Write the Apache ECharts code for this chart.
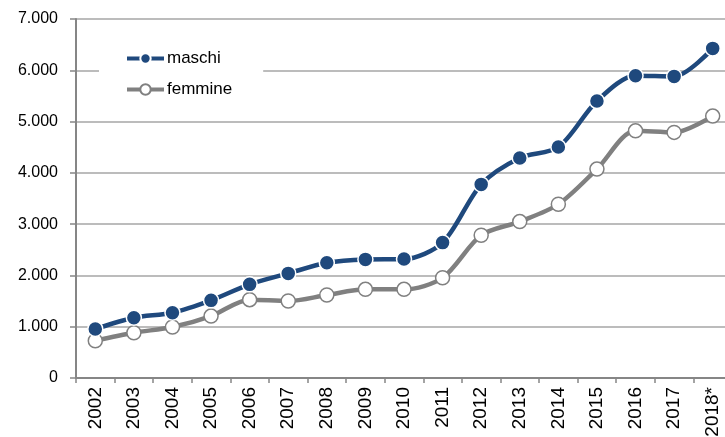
<!DOCTYPE html>
<html>
<head>
<meta charset="utf-8">
<script src="https://cdn.jsdelivr.net/npm/echarts@6/dist/echarts.min.js"></script>
<style>
  html, body { margin: 0; padding: 0; background: #fff; }
  #chart { width: 725px; height: 437px; }
</style>
</head>
<body>
<div id="chart"></div>
<script>
const anni = ["2002", "2003", "2004", "2005", "2006", "2007", "2008", "2009", "2010",
  "2011", "2012", "2013", "2014", "2015", "2016", "2017", "2018*"];
const maschi = [955, 1175, 1273, 1514, 1826, 2040, 2248, 2313, 2320,
  2640, 3775, 4290, 4503, 5400, 5893, 5881, 6427];
const femmine = [727, 883, 994, 1208, 1527, 1501, 1618, 1729, 1729,
  1955, 2783, 3050, 3388, 4074, 4820, 4789, 5107];

const font = "Liberation Sans";
const blu = "#1f497d";
const grigio = "#808080";

const chart = echarts.init(document.getElementById("chart"));
chart.setOption({
  backgroundColor: "#fff",
  animation: false,
  textStyle: { fontFamily: font },
  grid: { left: 76, right: -7, top: 19, bottom: 59, outerBoundsMode: "none" },
  legend: {
    orient: "vertical",
    left: 99,
    top: 40,
    backgroundColor: "#fff",
    padding: [10, 31, 10, 26],
    itemWidth: 37,
    itemHeight: 13,
    itemGap: 14,
    lineStyle: { width: 4 },
    textStyle: { fontFamily: font, fontSize: 17, color: "#000", padding: [0, 0, 0, -2] },
    data: ["maschi", "femmine"],
  },
  xAxis: {
    type: "category",
    data: anni,
    boundaryGap: true,
    axisLine: { lineStyle: { color: "#868686", width: 2 } },
    axisTick: { show: true, length: 5, lineStyle: { color: "#868686", width: 1.5 } },
    axisLabel: { rotate: 90, color: "#000", fontSize: 19, margin: 9, interval: 0 },
  },
  yAxis: {
    type: "value",
    min: 0,
    max: 7000,
    interval: 1000,
    axisLine: { show: true, lineStyle: { color: "#868686", width: 2 } },
    axisTick: { show: true, length: 6, lineStyle: { color: "#868686", width: 1.5 } },
    splitLine: { lineStyle: { color: "#a6a6a6", width: 1.5 } },
    axisLabel: {
      color: "#000",
      fontSize: 16,
      margin: 18,
      formatter: (v) => v === 0 ? "0" : v.toLocaleString("de-DE"),
    },
  },
  series: [
    {
      name: "femmine",
      type: "line",
      data: femmine,
      smooth: 0.3,
      symbol: "circle",
      symbolSize: 14,
      color: "#fff",
      lineStyle: { color: grigio, width: 4.5 },
      itemStyle: { color: "#fff", borderColor: grigio, borderWidth: 1.5 },
      z: 2,
    },
    {
      name: "maschi",
      type: "line",
      data: maschi,
      smooth: 0.3,
      symbol: "circle",
      symbolSize: 15,
      color: blu,
      lineStyle: { color: blu, width: 4.5 },
      itemStyle: { color: blu, borderColor: "#fff", borderWidth: 1.5 },
      z: 3,
    },
  ],
});
</script>
</body>
</html>
